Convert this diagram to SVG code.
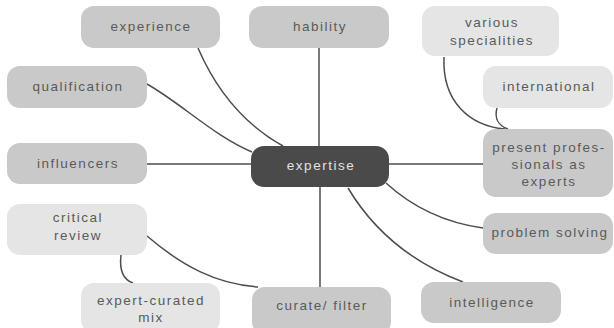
<svg xmlns="http://www.w3.org/2000/svg" width="614" height="328" viewBox="0 0 614 328">
  <style>
    .box { stroke: none; }
    .mid { fill: #c9c9c9; }
    .light { fill: #e5e5e5; }
    .core { fill: #4a4a4a; }
    text { font-family: "Liberation Sans", Arial, sans-serif; font-size: 13.5px; letter-spacing: 1.5px; fill: #5a5a5a; text-anchor: middle; }
    .core-label { fill: #e2e2e2; }
    .links path { fill: none; stroke: #4d4d4d; stroke-width: 1.5; }
  </style>
  <rect width="614" height="328" fill="#ffffff"/>

  <!-- connectors -->
  <g class="links" id="connectors">
    <path d="M198,48 C214,85 240,122 283,146"/>
    <path d="M147,84 C182,104 214,136 252,152"/>
    <path d="M319,48 L319,146"/>
    <path d="M147,164 L251,164"/>
    <path d="M389,164 L483,164"/>
    <path d="M386,183 C410,205 440,222 483,228"/>
    <path d="M348,188 C372,228 410,262 463,282"/>
    <path d="M320,187 L320,287"/>
    <path d="M147,236 C182,266 216,284 258,287"/>
    <path d="M121,255 C119,272 124,280 133,283"/>
    <path d="M444,57 C442,102 470,126 505,129"/>
    <path d="M497,108 C494,119 499,126 508,129"/>
  </g>

  <g id="experience">
    <rect class="box mid" x="81" y="6" width="139" height="42" rx="13"/>
    <text x="151" y="31">experience</text>
  </g>
  <g id="hability">
    <rect class="box mid" x="249" y="6" width="140" height="42" rx="13"/>
    <text x="320" y="31">hability</text>
  </g>
  <g id="various-specialities">
    <rect class="box light" x="422" y="6" width="137" height="50" rx="13"/>
    <text x="492" y="27">various</text>
    <text x="492" y="45">specialities</text>
  </g>
  <g id="international">
    <rect class="box light" x="483" y="66" width="130" height="42" rx="13"/>
    <text x="549" y="91">international</text>
  </g>
  <g id="qualification">
    <rect class="box mid" x="7" y="66" width="140" height="42" rx="13"/>
    <text x="78" y="91">qualification</text>
  </g>
  <g id="influencers">
    <rect class="box mid" x="7" y="143" width="140" height="41" rx="13"/>
    <text x="78" y="168">influencers</text>
  </g>
  <g id="expertise">
    <rect class="box core" x="251" y="146" width="138" height="41" rx="13"/>
    <text class="core-label" x="321" y="170">expertise</text>
  </g>
  <g id="present-professionals">
    <rect class="box mid" x="483" y="129" width="130" height="68" rx="13"/>
    <text x="549" y="152">present profes-</text>
    <text x="549" y="169">sionals as</text>
    <text x="549" y="186">experts</text>
  </g>
  <g id="problem-solving">
    <rect class="box mid" x="483" y="213" width="130" height="41" rx="13"/>
    <text x="550" y="237">problem solving</text>
  </g>
  <g id="critical-review">
    <rect class="box light" x="7" y="204" width="140" height="51" rx="13"/>
    <text x="78" y="222">critical</text>
    <text x="78" y="240">review</text>
  </g>
  <g id="expert-curated-mix">
    <rect class="box light" x="81" y="283" width="139" height="50" rx="13"/>
    <text x="151" y="305">expert-curated</text>
    <text x="151" y="322">mix</text>
  </g>
  <g id="curate-filter">
    <rect class="box mid" x="252" y="287" width="139" height="48" rx="13"/>
    <text x="322" y="310">curate/ filter</text>
  </g>
  <g id="intelligence">
    <rect class="box mid" x="421" y="282" width="140" height="41" rx="13"/>
    <text x="492" y="307">intelligence</text>
  </g>
</svg>
